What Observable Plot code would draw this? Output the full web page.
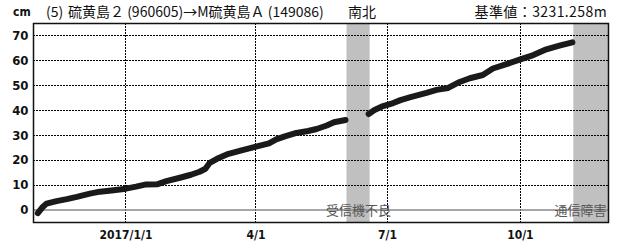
<!DOCTYPE html>
<html><head><meta charset="utf-8">
<script src="https://cdn.jsdelivr.net/npm/d3@7"></script>
<script src="https://cdn.jsdelivr.net/npm/@observablehq/plot@0.6"></script>
<style>
body{margin:0;background:#fff;width:622px;height:247px;overflow:hidden;position:relative;}
#hdr{position:relative;height:20px;font-family:"Noto Sans CJK JP",sans-serif;font-size:14px;color:#111;}
#hdr span{position:absolute;top:3px;white-space:nowrap;line-height:16px;}
#chart svg{display:block;}
</style></head><body>
<div id="hdr">
<span id="unit" style="left:13px;top:4px;font-family:'Liberation Sans Narrow','DejaVu Sans Condensed',sans-serif;font-weight:bold;font-size:12px;">cm</span>
<span style="left:46px;">(5)</span>
<span style="left:68px;">硫黄島２ (960605)→M硫黄島Ａ (149086)</span>
<span style="left:348px;">南北</span>
<span style="right:15px;letter-spacing:0.4px;">基準値：3231.258m</span>
</div>
<div id="chart"></div>
<script>
const dates = ["2016-11-01","2016-11-04","2016-11-07","2016-11-14","2016-11-21","2016-11-28","2016-12-07","2016-12-14","2016-12-22","2017-01-01","2017-01-08","2017-01-15","2017-01-23","2017-01-29","2017-02-08","2017-02-15","2017-02-21","2017-02-25","2017-02-28","2017-03-05","2017-03-13","2017-03-22","2017-04-01","2017-04-10","2017-04-15","2017-04-21","2017-04-29","2017-05-07","2017-05-13","2017-05-20","2017-05-25","2017-06-02","2017-06-10","2017-06-18","2017-06-22","2017-06-28","2017-07-05","2017-07-10","2017-07-17","2017-07-28","2017-08-04","2017-08-12","2017-08-20","2017-08-27","2017-09-05","2017-09-12","2017-09-23","2017-10-01","2017-10-10","2017-10-19","2017-10-28","2017-11-06"];
const values = [-1.2,1.0,2.6,3.6,4.4,5.3,6.6,7.4,7.9,8.6,9.4,10.3,10.4,11.6,13.1,14.2,15.4,16.6,19.0,20.6,22.6,24.0,25.5,26.8,28.4,29.6,31.0,31.8,32.6,34.0,35.3,36.2,null,38.6,40.2,41.8,43.0,44.2,45.4,47.1,48.3,49.1,51.5,53.0,54.3,56.9,59.0,60.6,62.3,64.6,66.1,67.4];
const bandStarts = ["2017-06-03","2017-11-07"];
const bandEnds = ["2017-06-19","2017-12-01"];
const bandLabels = ["受信機不良","通信障害"];
const xTicks = ["2017-01-01","2017-04-01","2017-07-01","2017-10-01"];
const xTickLabels = ["2017/1/1","4/1","7/1","10/1"];
const yTicks = [0,10,20,30,40,50,60,70];
const xDomain = ["2016-10-29","2017-12-01"];
const yDomain = [-5,75];

const P = d3.utcParse("%Y-%m-%d");
const series = dates.map((d,i)=>({date:P(d), v: values[i]==null?NaN:values[i]}));
const bands = bandStarts.map((s,i)=>({x1:P(s), x2:P(bandEnds[i]), label:bandLabels[i]}));
const xt = xTicks.map(P);
const labelMap = new Map(xt.map((d,i)=>[+d, xTickLabels[i]]));
const tickFont = "'Liberation Sans Narrow','DejaVu Sans Condensed',sans-serif";
const gridStyle = {stroke:"#000", strokeWidth:1, strokeOpacity:1, strokeDasharray:"1.5,1.5", shapeRendering:"crispEdges"};

const chart = Plot.plot({
  width:622, height:227,
  marginTop:3, marginBottom:25, marginLeft:33, marginRight:14,
  style:{fontFamily:tickFont, fontSize:"12px", fontWeight:"bold", color:"#111", background:"#fff"},
  x:{type:"utc", domain:xDomain.map(P), label:null},
  y:{domain:yDomain, label:null},
  marks:[
    Plot.rect(bands,{x1:"x1", x2:"x2", fill:"#c0c0c0"}),
    Plot.ruleY(yTicks.filter(t=>t!==0), gridStyle),
    Plot.ruleX(xt, gridStyle),
    Plot.ruleY([0],{stroke:"#888", strokeWidth:1.5}),
    Plot.text([bands[0]],{x:d=>new Date((+d.x1 + +d.x2)/2), y:0, text:"label", fill:"#555", fontSize:13, fontWeight:"normal", fontFamily:"'Noto Sans CJK JP',sans-serif", dy:1}),
    Plot.text([bands[1]],{x:"x2", y:0, text:"label", fill:"#555", fontSize:13, fontWeight:"normal", fontFamily:"'Noto Sans CJK JP',sans-serif", textAnchor:"end", dx:-2, dy:1}),
    Plot.line(series,{x:"date", y:"v", stroke:"#1a1a1a", strokeWidth:6, strokeLinecap:"round", strokeLinejoin:"round", curve:"linear"}),
    Plot.axisY(yTicks,{tickSize:0, tickPadding:5, fontSize:13, label:null}),
    Plot.axisX(xt,{tickSize:0, tickPadding:8, fontSize:12, label:null, tickFormat:d=>labelMap.get(+d)}),
    Plot.frame({stroke:"#111", strokeWidth:1.5})
  ]
});
document.getElementById("chart").appendChild(chart);
</script>
</body></html>
